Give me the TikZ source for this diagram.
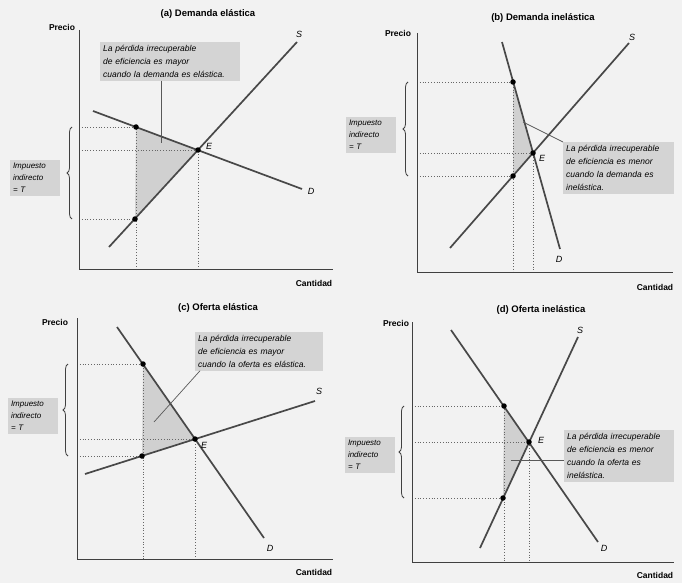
\documentclass[tikz,border=0pt]{standalone}
\usepackage{fontspec}
\setmainfont{Liberation Sans}
\usetikzlibrary{decorations.pathreplacing}
\definecolor{CurveGray}{HTML}{484848}
\definecolor{BoxGray}{HTML}{D4D4D4}
\definecolor{LossGray}{HTML}{D0D0D0}
\definecolor{PaperGray}{HTML}{F2F2F2}

\begin{document}
\begin{tikzpicture}[x=1pt, y=-1pt,
        axis/.style={draw=black!75, line width=0.8pt},
        curve/.style={draw=CurveGray, line width=1.7pt},
        guide/.style={draw=black!60, dotted, line width=0.8pt},
        dot/.style={circle, fill=black, inner sep=0pt, minimum size=5.5pt},
        loss/.style={fill=LossGray},
        leader/.style={draw=black!65, line width=0.7pt},
        taxbrace/.style={draw=black!75, line width=0.8pt, decorate, decoration={brace, amplitude=5pt}},
        callout/.style={rectangle, fill=BoxGray, anchor=north west, align=left, inner sep=3pt, font=\fontsize{8.5}{13}\selectfont\itshape},
        taxbox/.style={rectangle, fill=BoxGray, align=left, inner sep=3pt, text width=44pt, font=\fontsize{8}{12}\selectfont\itshape},
        paneltitle/.style={font=\fontsize{9.5}{11}\selectfont\bfseries},
        axislabel/.style={font=\fontsize{8.5}{10}\selectfont\bfseries},
        curvelabel/.style={font=\fontsize{9}{10}\selectfont\itshape, inner sep=1pt}
    ]
        \useasboundingbox[fill=PaperGray] (0,0) rectangle (682,583);

        % (a) demanda elastica
        \coordinate (Oa) at (79,269);
        \coordinate (Ea) at (198,150);
        \coordinate (higha) at (136,127);
        \coordinate (lowa) at (135,219);
        \coordinate (Sa1) at (109,247);
        \coordinate (Sa2) at (297,42);
        \coordinate (Da1) at (93,111);
        \coordinate (Da2) at (302,189);
        \coordinate (lossa) at (161,143);
        \node [paneltitle] (titlea) at (208,14) {(a) Demanda elástica};
        \fill [loss] (higha) -- (Ea) -- (lowa) -- cycle;
        \draw [guide] (Oa |- higha) -- (higha) -- (higha |- Oa);
        \draw [guide] (Oa |- Ea) -- (Ea) -- (Ea |- Oa);
        \draw [guide] (Oa |- lowa) -- (lowa);
        \draw [axis] (79,30) -- (Oa) -- (333,269);
        \draw [curve] (Sa1) -- (Sa2);
        \draw [curve] (Da1) -- (Da2);
        \node [dot] at (higha) {};
        \node [dot] at (lowa) {};
        \node [dot] at (Ea) {};
        \node [curvelabel] (labSa) at (299,34) {S};
        \node [curvelabel] (labDa) at (311,191) {D};
        \node [curvelabel] (labEa) at (209,146) {E};
        \node [axislabel] (pricea) at (62,27) {Precio};
        \node [axislabel] (qtya) at (314,283) {Cantidad};
        \node [callout, text width=134pt] (calla) at (100,42) {La pérdida irrecuperable\\ de eficiencia es mayor\\ cuando la demanda es elástica.};
        \draw [leader] (calla.south -| lossa) -- (lossa);
        \draw [taxbrace] (lowa -| 72,0) -- (higha -| 72,0);
        \node [taxbox] (taxa) at (35,178) {Impuesto\\ indirecto\\ = T};

        % (b) demanda inelastica
        \coordinate (Ob) at (417,272);
        \coordinate (Eb) at (533,153);
        \coordinate (highb) at (513,82);
        \coordinate (lowb) at (513,176);
        \coordinate (Db1) at (502,42);
        \coordinate (Db2) at (560,249);
        \coordinate (Sb1) at (450,248);
        \coordinate (Sb2) at (629,43);
        \coordinate (lossb) at (523,122);
        \node [paneltitle] (titleb) at (543,18) {(b) Demanda inelástica};
        \fill [loss] (highb) -- (Eb) -- (lowb) -- cycle;
        \draw [guide] (Ob |- highb) -- (highb) -- (highb |- Ob);
        \draw [guide] (Ob |- Eb) -- (Eb) -- (Eb |- Ob);
        \draw [guide] (Ob |- lowb) -- (lowb);
        \draw [axis] (417,33) -- (Ob) -- (673,272);
        \draw [curve] (Sb1) -- (Sb2);
        \draw [curve] (Db1) -- (Db2);
        \node [dot] at (highb) {};
        \node [dot] at (lowb) {};
        \node [dot] at (Eb) {};
        \node [curvelabel] (labSb) at (632,37) {S};
        \node [curvelabel] (labDb) at (559,259) {D};
        \node [curvelabel] (labEb) at (542,158) {E};
        \node [axislabel] (priceb) at (398,33) {Precio};
        \node [axislabel] (qtyb) at (655,287) {Cantidad};
        \node [callout, text width=105pt] (callb) at (563,142) {La pérdida irrecuperable\\ de eficiencia es menor\\ cuando la demanda es\\ inelástica.};
        \draw [leader] (callb.north west) -- (lossb);
        \draw [taxbrace] (lowb -| 408,0) -- (highb -| 408,0);
        \node [taxbox] (taxb) at (371,135) {Impuesto\\ indirecto\\ = T};

        % (c) oferta elastica
        \coordinate (Oc) at (77,559);
        \coordinate (Ec) at (195,439);
        \coordinate (highc) at (143,364);
        \coordinate (lowc) at (142,456);
        \coordinate (Dc1) at (117,327);
        \coordinate (Dc2) at (264,538);
        \coordinate (Sc1) at (85,474);
        \coordinate (Sc2) at (315,401);
        \coordinate (lossc) at (154,422);
        \node [paneltitle] (titlec) at (218,308) {(c) Oferta elástica};
        \fill [loss] (highc) -- (Ec) -- (lowc) -- cycle;
        \draw [guide] (Oc |- highc) -- (highc) -- (highc |- Oc);
        \draw [guide] (Oc |- Ec) -- (Ec) -- (Ec |- Oc);
        \draw [guide] (Oc |- lowc) -- (lowc);
        \draw [axis] (77,318) -- (Oc) -- (333,559);
        \draw [curve] (Sc1) -- (Sc2);
        \draw [curve] (Dc1) -- (Dc2);
        \node [dot] at (highc) {};
        \node [dot] at (lowc) {};
        \node [dot] at (Ec) {};
        \node [curvelabel] (labSc) at (319,391) {S};
        \node [curvelabel] (labDc) at (270,548) {D};
        \node [curvelabel] (labEc) at (204,445) {E};
        \node [axislabel] (pricec) at (55,322) {Precio};
        \node [axislabel] (qtyc) at (314,572) {Cantidad};
        \node [callout, text width=122pt] (callc) at (195,332) {La pérdida irrecuperable\\ de eficiencia es mayor\\ cuando la oferta es elástica.};
        \draw [leader] ([xshift=5pt]callc.south west) -- (lossc);
        \draw [taxbrace] (lowc -| 68,0) -- (highc -| 68,0);
        \node [taxbox] (taxc) at (33,416) {Impuesto\\ indirecto\\ = T};

        % (d) oferta inelastica
        \coordinate (Od) at (412,562);
        \coordinate (Ed) at (529,442);
        \coordinate (highd) at (504,406);
        \coordinate (lowd) at (503,498);
        \coordinate (Dd1) at (451,330);
        \coordinate (Dd2) at (598,542);
        \coordinate (Sd1) at (480,548);
        \coordinate (Sd2) at (578,337);
        \coordinate (lossd) at (511,460);
        \node [paneltitle] (titled) at (541,310) {(d) Oferta inelástica};
        \fill [loss] (highd) -- (Ed) -- (lowd) -- cycle;
        \draw [guide] (Od |- highd) -- (highd) -- (highd |- Od);
        \draw [guide] (Od |- Ed) -- (Ed) -- (Ed |- Od);
        \draw [guide] (Od |- lowd) -- (lowd);
        \draw [axis] (412,322) -- (Od) -- (674,562);
        \draw [curve] (Sd1) -- (Sd2);
        \draw [curve] (Dd1) -- (Dd2);
        \node [dot] at (highd) {};
        \node [dot] at (lowd) {};
        \node [dot] at (Ed) {};
        \node [curvelabel] (labSd) at (580,330) {S};
        \node [curvelabel] (labDd) at (604,548) {D};
        \node [curvelabel] (labEd) at (541,440) {E};
        \node [axislabel] (priced) at (396,323) {Precio};
        \node [axislabel] (qtyd) at (655,575) {Cantidad};
        \node [callout, text width=104pt] (calld) at (564,430) {La pérdida irrecuperable\\ de eficiencia es menor\\ cuando la oferta es\\ inelástica.};
        \draw [leader] (calld.west |- lossd) -- (lossd);
        \draw [taxbrace] (lowd -| 404,0) -- (highd -| 404,0);
        \node [taxbox] (taxd) at (370,455) {Impuesto\\ indirecto\\ = T};
    \end{tikzpicture}
\end{document}
